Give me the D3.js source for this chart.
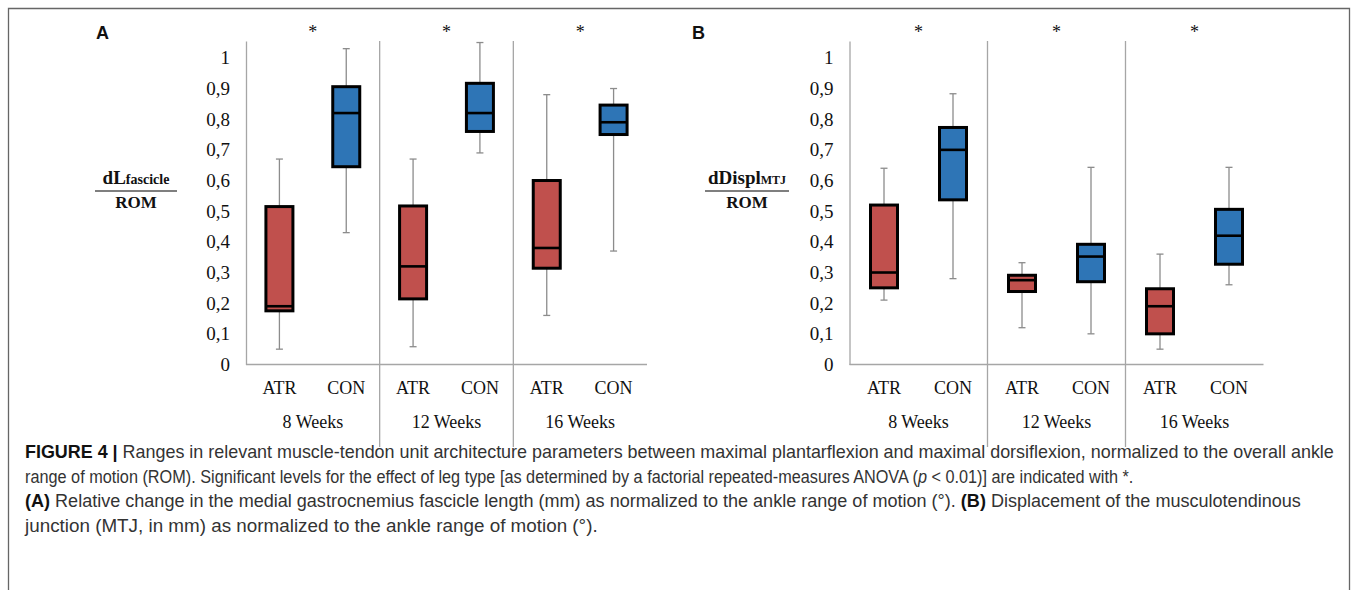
<!DOCTYPE html>
<html lang="en">
<head>
<title>Figure 4 - box plots</title>
<meta charset="utf-8">

<script src="https://d3js.org/d3.v7.min.js"></script>

<style type="text/css">

  body {
    margin: 0;
    background: #fff;
  }

  .tick-label, .cat-label, .group-label, .star {
    font-family: 'Liberation Serif', 'Times New Roman', serif;
    fill: #111;
  }

  .caption {
    font-family: 'Liberation Sans Narrow', 'Liberation Sans', 'Arial', sans-serif;
    fill: #333;
  }

</style>

</head>

<body>

<div id="chart-container"></div>

<script>


/* Data */
/* ==== */

var groups = ['8 Weeks', '12 Weeks', '16 Weeks'];
var legs = ['ATR', 'CON'];
var legColors = ['#C0504D', '#2E75B6'];
var tickValues = [0, 0.1, 0.2, 0.3, 0.4, 0.5, 0.6, 0.7, 0.8, 0.9, 1];

// each box: [min, q1, median, q3, max], one per group
var fascicleATR = [
  [0.05, 0.175, 0.19, 0.515, 0.67],
  [0.058, 0.214, 0.32, 0.517, 0.67],
  [0.16, 0.314, 0.38, 0.60, 0.88]
];
var fascicleCON = [
  [0.43, 0.645, 0.82, 0.906, 1.03],
  [0.69, 0.76, 0.82, 0.917, 1.05],
  [0.37, 0.75, 0.79, 0.846, 0.90]
];
var displATR = [
  [0.21, 0.25, 0.30, 0.52, 0.64],
  [0.12, 0.238, 0.275, 0.291, 0.332],
  [0.05, 0.10, 0.19, 0.247, 0.36]
];
var displCON = [
  [0.28, 0.537, 0.70, 0.773, 0.883],
  [0.10, 0.27, 0.352, 0.392, 0.643],
  [0.26, 0.327, 0.42, 0.506, 0.643]
];

var significance = ['*', '*', '*'];

var captionLines = [
  [['b', 'FIGURE 4 | '], ['n', 'Ranges in relevant muscle-tendon unit architecture parameters between maximal plantarflexion and maximal dorsiflexion, normalized to the overall ankle']],
  [['n', 'range of motion (ROM). Significant levels for the effect of leg type [as determined by a factorial repeated-measures ANOVA ('], ['i', 'p'], ['n', ' < 0.01)] are indicated with *.']],
  [['b', '(A)'], ['n', ' Relative change in the medial gastrocnemius fascicle length (mm) as normalized to the ankle range of motion (\u00b0). '], ['b', '(B)'], ['n', ' Displacement of the musculotendinous']],
  [['n', 'junction (MTJ, in mm) as normalized to the ankle range of motion (\u00b0).']]
];
var captionWidths = [1310, 1110, 1277, 573]; // line widths in the figure


/* Set up svg */
/* ========== */

var width = 1357,
    height = 590;

var svg = d3.select('#chart-container').append('svg')
    .attr('width', width)
    .attr('height', height);

// Frame round the figure (no bottom edge, it runs off the page)
svg.append('path')
    .attr('d', 'M8.5,' + height + 'V8.5H1349.5V' + height)
    .attr('fill', 'none')
    .attr('stroke', '#666')
    .attr('stroke-width', 1.3);

// Shared vertical scale
var y = d3.scaleLinear()
    .domain([0, 1.055])
    .range([364.5, 41]);

var tickFormat = function(d) {
  if (d === 0 || d === 1) return String(d);
  return d3.format('.1f')(d).replace('.', ',');
};


/* Panel drawing */
/* ============= */

function drawPanel(p) {

  var g = svg.append('g');

  var x0 = d3.scaleBand()
      .domain(groups)
      .range([p.x0, p.x1]);

  var x1 = d3.scaleBand()
      .domain(legs)
      .range([0, x0.bandwidth()]);

  // Panel letter
  g.append('text')
      .attr('x', p.letterX)
      .attr('y', 39)
      .attr('font-family', 'Liberation Sans, Arial, sans-serif')
      .attr('font-weight', 'bold')
      .attr('font-size', 18)
      .attr('fill', '#111')
      .text(p.letter);

  // Y axis ticks (labels only, Excel style)
  var yAxis = d3.axisLeft(y)
      .tickValues(tickValues)
      .tickSize(0)
      .tickPadding(16)
      .tickFormat(tickFormat);

  var ya = g.append('g')
      .attr('transform', 'translate(' + p.x0 + ',0)')
      .call(yAxis);

  ya.select('.domain')
      .attr('stroke', '#a6a6a6')
      .attr('stroke-width', 1.3);

  ya.selectAll('.tick text')
      .attr('class', 'tick-label')
      .attr('font-size', 19)
      .attr('fill', '#111');

  // X axis line
  g.append('line')
      .attr('x1', p.x0)
      .attr('x2', p.x1)
      .attr('y1', y(0))
      .attr('y2', y(0))
      .attr('stroke', '#a6a6a6')
      .attr('stroke-width', 1.3);

  // Separators between groups
  g.selectAll('.sep')
      .data(groups.slice(1))
      .enter().append('line')
      .attr('x1', function(d) { return x0(d); })
      .attr('x2', function(d) { return x0(d); })
      .attr('y1', y(1.055))
      .attr('y2', 447)
      .attr('stroke', '#a6a6a6')
      .attr('stroke-width', 1.3);

  // Group labels and significance stars
  g.selectAll('.group-label')
      .data(groups)
      .enter().append('text')
      .attr('class', 'group-label')
      .attr('x', function(d) { return x0(d) + x0.bandwidth() / 2; })
      .attr('y', 428)
      .attr('text-anchor', 'middle')
      .attr('font-size', 18)
      .text(function(d) { return d; });

  g.selectAll('.star')
      .data(significance)
      .enter().append('text')
      .attr('class', 'star')
      .attr('x', function(d, i) { return x0(groups[i]) + x0.bandwidth() / 2; })
      .attr('y', 38)
      .attr('text-anchor', 'middle')
      .attr('font-size', 18)
      .text(function(d) { return d; });

  // Boxes
  var boxW = 27;

  p.series.forEach(function(series, si) {

    var leg = legs[si];

    series.forEach(function(b, gi) {

      var cx = x0(groups[gi]) + x1(leg) + x1.bandwidth() / 2;
      var bg = g.append('g');

      // Whiskers
      bg.append('line')
          .attr('x1', cx).attr('x2', cx)
          .attr('y1', y(b[4])).attr('y2', y(b[3]))
          .attr('stroke', '#8c8c8c').attr('stroke-width', 1.3);
      bg.append('line')
          .attr('x1', cx).attr('x2', cx)
          .attr('y1', y(b[1])).attr('y2', y(b[0]))
          .attr('stroke', '#8c8c8c').attr('stroke-width', 1.3);

      // Caps
      [b[0], b[4]].forEach(function(v) {
        bg.append('line')
            .attr('x1', cx - 3.5).attr('x2', cx + 3.5)
            .attr('y1', y(v)).attr('y2', y(v))
            .attr('stroke', '#8c8c8c').attr('stroke-width', 1.3);
      });

      // Box
      bg.append('rect')
          .attr('x', cx - boxW / 2)
          .attr('y', y(b[3]))
          .attr('width', boxW)
          .attr('height', y(b[1]) - y(b[3]))
          .attr('fill', legColors[si])
          .attr('stroke', '#000')
          .attr('stroke-width', 3);

      // Median
      bg.append('line')
          .attr('x1', cx - boxW / 2).attr('x2', cx + boxW / 2)
          .attr('y1', y(b[2])).attr('y2', y(b[2]))
          .attr('stroke', '#000').attr('stroke-width', 2.6);

    });

    // Leg labels under each group
    g.selectAll('.cat-' + leg)
        .data(groups)
        .enter().append('text')
        .attr('class', 'cat-label')
        .attr('x', function(d) { return x0(d) + x1(leg) + x1.bandwidth() / 2; })
        .attr('y', 394)
        .attr('text-anchor', 'middle')
        .attr('font-size', 18)
        .text(leg);

  });

  // Y label as a fraction
  var lab = g.append('g')
      .attr('transform', 'translate(' + p.labelX + ',0)')
      .attr('font-family', 'Liberation Serif, Times New Roman, serif')
      .attr('font-weight', 'bold')
      .attr('fill', '#111');

  var num = lab.append('text')
      .attr('y', 184)
      .attr('text-anchor', 'middle');
  num.append('tspan').attr('font-size', 19).text(p.num);
  num.append('tspan').attr('font-size', p.subSize).text(p.sub);

  lab.append('line')
      .attr('x1', -p.lineHalf).attr('x2', p.lineHalf)
      .attr('y1', 191).attr('y2', 191)
      .attr('stroke', '#555').attr('stroke-width', 1.3);

  lab.append('text')
      .attr('y', 208)
      .attr('text-anchor', 'middle')
      .attr('font-size', 17)
      .text('ROM');

} // drawPanel()


drawPanel({
  letter: 'A', letterX: 96,
  x0: 246, x1: 647,
  series: [fascicleATR, fascicleCON],
  labelX: 136, num: 'dL', sub: 'fascicle', subSize: 14, lineHalf: 41
});

drawPanel({
  letter: 'B', letterX: 692,
  x0: 849.5, x1: 1263.5,
  series: [displATR, displCON],
  labelX: 747, num: 'dDispl', sub: 'MTJ', subSize: 12, lineHalf: 42
});


/* Caption */
/* ======= */

// Each line squeezed horizontally to its width, so the sans font reads condensed
var cap = svg.append('g').attr('class', 'caption');

captionLines.forEach(function(line, li) {

  var lg = cap.append('g');

  var t = lg.append('text')
      .attr('x', 0)
      .attr('y', 458 + li * 24.7)
      .attr('font-size', 17.5);

  line.forEach(function(seg) {
    var ts = t.append('tspan').text(seg[1]);
    if (seg[0] === 'b') ts.attr('font-weight', 'bold').attr('fill', '#111');
    if (seg[0] === 'i') ts.attr('font-style', 'italic');
  });

  var k = captionWidths[li] / t.node().getComputedTextLength();
  lg.attr('transform', 'translate(25,0) scale(' + k + ',1)');

});


</script>

</body>
</html>
